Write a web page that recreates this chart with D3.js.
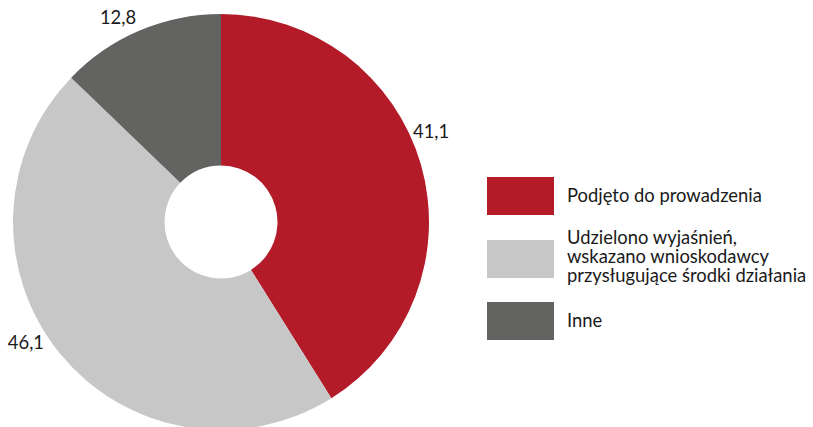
<!DOCTYPE html>
<html><head><meta charset="utf-8">
<script src="https://cdn.jsdelivr.net/npm/d3@7"></script>
<style>
html,body{margin:0;padding:0;background:#fff;}
svg{display:block;font-family:Lato,"Noto Sans",sans-serif;}
</style></head>
<body>
<svg id="chart" width="813" height="427"></svg>
<script>
const categories = ["Podjęto do prowadzenia", "Udzielono wyjaśnień, wskazano wnioskodawcy przysługujące środki działania", "Inne"];
const legendLines = [["Podjęto do prowadzenia"], ["Udzielono wyjaśnień,", "wskazano wnioskodawcy", "przysługujące środki działania"], ["Inne"]];
const values = [41.1, 46.1, 12.8];
const valueLabels = ["41,1", "46,1", "12,8"];
const colors = ["#B31B29", "#C6C7C6", "#636362"];
const labelFrac = [0.45, 0.545, 0.42];

const svg = d3.select("#chart");
const cx = 221, cy = 222, R = 208, r0 = 56.5, labelR = 229;
const fontSize = 18.4;

const pie = d3.pie().sort(null).value(d => d)(values);
const arc = d3.arc().innerRadius(r0).outerRadius(R);
const g = svg.append("g").attr("transform", `translate(${cx},${cy})`);
g.selectAll("path").data(pie).join("path")
  .attr("d", arc).attr("fill", (d, i) => colors[i]);

g.selectAll("text.val").data(pie).join("text")
  .attr("class", "val")
  .attr("x", (d, i) => { const a = d.startAngle + labelFrac[i] * (d.endAngle - d.startAngle); return labelR * Math.sin(a); })
  .attr("y", (d, i) => { const a = d.startAngle + labelFrac[i] * (d.endAngle - d.startAngle); return -labelR * Math.cos(a); })
  .attr("text-anchor", "middle").attr("dominant-baseline", "central")
  .attr("font-size", fontSize).attr("fill", "#1a1a1a")
  .text((d, i) => valueLabels[i]);

const legendY = d3.scalePoint().domain(d3.range(categories.length)).range([196, 321]);
const lg = svg.append("g");
const items = lg.selectAll("g").data(categories).join("g")
  .attr("transform", (d, i) => `translate(487,${i === 1 ? 259 : legendY(i)})`);
items.append("rect").attr("x", 0).attr("y", -19).attr("width", 67).attr("height", 38)
  .attr("fill", (d, i) => colors[i]);
items.append("text").attr("x", 80).attr("font-size", fontSize).attr("fill", "#1a1a1a")
  .each(function(d, i) {
    const lines = legendLines[i];
    const n = lines.length, lh = 19;
    const shift = n > 1 ? -2 : 0;
    d3.select(this).selectAll("tspan").data(lines).join("tspan")
      .attr("x", 80)
      .attr("y", (l, j) => (j - (n - 1) / 2) * lh + shift)
      .attr("dy", "0.35em")
      .text(l => l);
  });
</script>
</body></html>
